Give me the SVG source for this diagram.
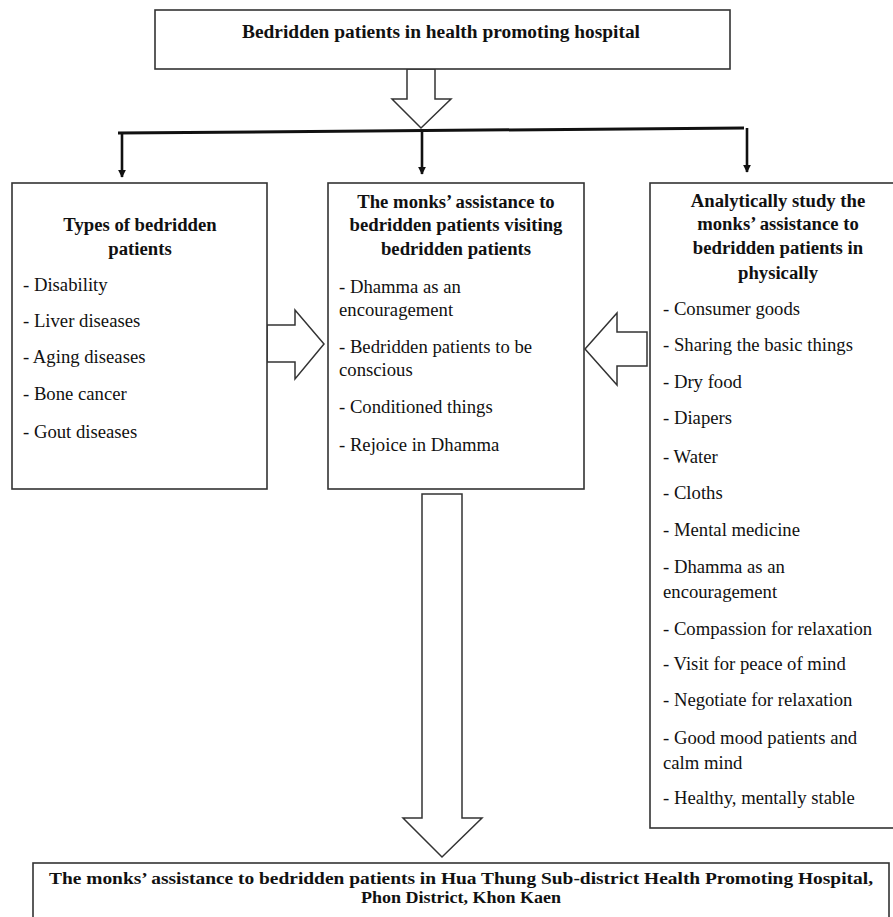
<svg xmlns="http://www.w3.org/2000/svg" width="893" height="917" viewBox="0 0 893 917">
<defs>
<style>
.box{fill:#fff;stroke:#333;stroke-width:1.6}
.harrow{fill:#fff;stroke:#333;stroke-width:1.5;stroke-linejoin:miter}
.t{font-family:"Liberation Serif","Times New Roman",serif;font-size:18.7px;fill:#111}
.b{font-family:"Liberation Serif","Times New Roman",serif;font-size:18.7px;font-weight:bold;fill:#111;text-anchor:middle}
.bs{font-family:"Liberation Serif","Times New Roman",serif;font-size:16.5px;font-weight:bold;fill:#111;text-anchor:middle}
.line{stroke:#111;stroke-width:3;fill:none}
.drop{stroke:#111;stroke-width:2.6;fill:none}
</style>
<marker id="ah" viewBox="0 0 10 10" refX="9" refY="5" markerWidth="3" markerHeight="3" orient="auto" markerUnits="strokeWidth">
<path d="M0,0 L10,5 L0,10 z" fill="#111"/>
</marker>
</defs>
<rect x="0" y="0" width="893" height="917" fill="#fff"/>

<g id="connectors">
<polygon class="harrow" points="407,69 435,69 435,99 451,99 421,128 392,99 407,99"/>
<line class="line" x1="118" y1="133" x2="744" y2="128"/>
<line class="drop" x1="122" y1="133" x2="122" y2="177" marker-end="url(#ah)"/>
<line class="drop" x1="422" y1="130" x2="422" y2="174" marker-end="url(#ah)"/>
<line class="drop" x1="747" y1="128" x2="747" y2="172" marker-end="url(#ah)"/>
<polygon class="harrow" points="267,325 295,325 295,310 324,344 295,379 295,362 267,362"/>
<polygon class="harrow" points="647,332 617,332 617,313 585,349 617,385 617,366 647,366"/>
<polygon class="harrow" points="422,494 462,494 462,818 482,818 442,857 403,818 422,818"/>
</g>

<g id="node-top">
<rect class="box" x="155" y="10" width="575" height="59"/>
<text class="b" x="441" y="38" textLength="398" lengthAdjust="spacingAndGlyphs">Bedridden patients in health promoting hospital</text>
</g>

<g id="node-types">
<rect class="box" x="12" y="183" width="255" height="306"/>
<text class="b" x="140" y="231">Types of bedridden</text>
<text class="b" x="140" y="255">patients</text>
<text class="t" x="23" y="291">- Disability</text>
<text class="t" x="23" y="327">- Liver diseases</text>
<text class="t" x="23" y="363">- Aging diseases</text>
<text class="t" x="23" y="400">- Bone cancer</text>
<text class="t" x="23" y="438">- Gout diseases</text>
</g>

<g id="node-visiting">
<rect class="box" x="328" y="183" width="256" height="306"/>
<text class="b" x="456" y="208">The monks’ assistance to</text>
<text class="b" x="456" y="231">bedridden patients visiting</text>
<text class="b" x="456" y="255">bedridden patients</text>
<text class="t" x="339" y="293">- Dhamma as an</text>
<text class="t" x="339" y="316">encouragement</text>
<text class="t" x="339" y="353">- Bedridden patients to be</text>
<text class="t" x="339" y="376">conscious</text>
<text class="t" x="339" y="413">- Conditioned things</text>
<text class="t" x="339" y="451">- Rejoice in Dhamma</text>
</g>

<g id="node-physically">
<rect class="box" x="650" y="183" width="260" height="645"/>
<text class="b" x="778" y="207">Analytically study the</text>
<text class="b" x="778" y="230">monks’ assistance to</text>
<text class="b" x="778" y="254">bedridden patients in</text>
<text class="b" x="778" y="279">physically</text>
<text class="t" x="663" y="315">- Consumer goods</text>
<text class="t" x="663" y="351">- Sharing the basic things</text>
<text class="t" x="663" y="388">- Dry food</text>
<text class="t" x="663" y="424">- Diapers</text>
<text class="t" x="663" y="463">- Water</text>
<text class="t" x="663" y="499">- Cloths</text>
<text class="t" x="663" y="536">- Mental medicine</text>
<text class="t" x="663" y="573">- Dhamma as an</text>
<text class="t" x="663" y="598">encouragement</text>
<text class="t" x="663" y="635">- Compassion for relaxation</text>
<text class="t" x="663" y="670">- Visit for peace of mind</text>
<text class="t" x="663" y="706">- Negotiate for relaxation</text>
<text class="t" x="663" y="744">- Good mood patients and</text>
<text class="t" x="663" y="769">calm mind</text>
<text class="t" x="663" y="804">- Healthy, mentally stable</text>
</g>

<g id="node-result">
<rect class="box" x="33" y="863" width="856" height="70"/>
<text class="bs" x="461" y="884" textLength="824" lengthAdjust="spacingAndGlyphs">The monks’ assistance to bedridden patients in Hua Thung Sub-district Health Promoting Hospital,</text>
<text class="bs" x="461" y="903" textLength="200" lengthAdjust="spacingAndGlyphs">Phon District, Khon Kaen</text>
</g>
</svg>
